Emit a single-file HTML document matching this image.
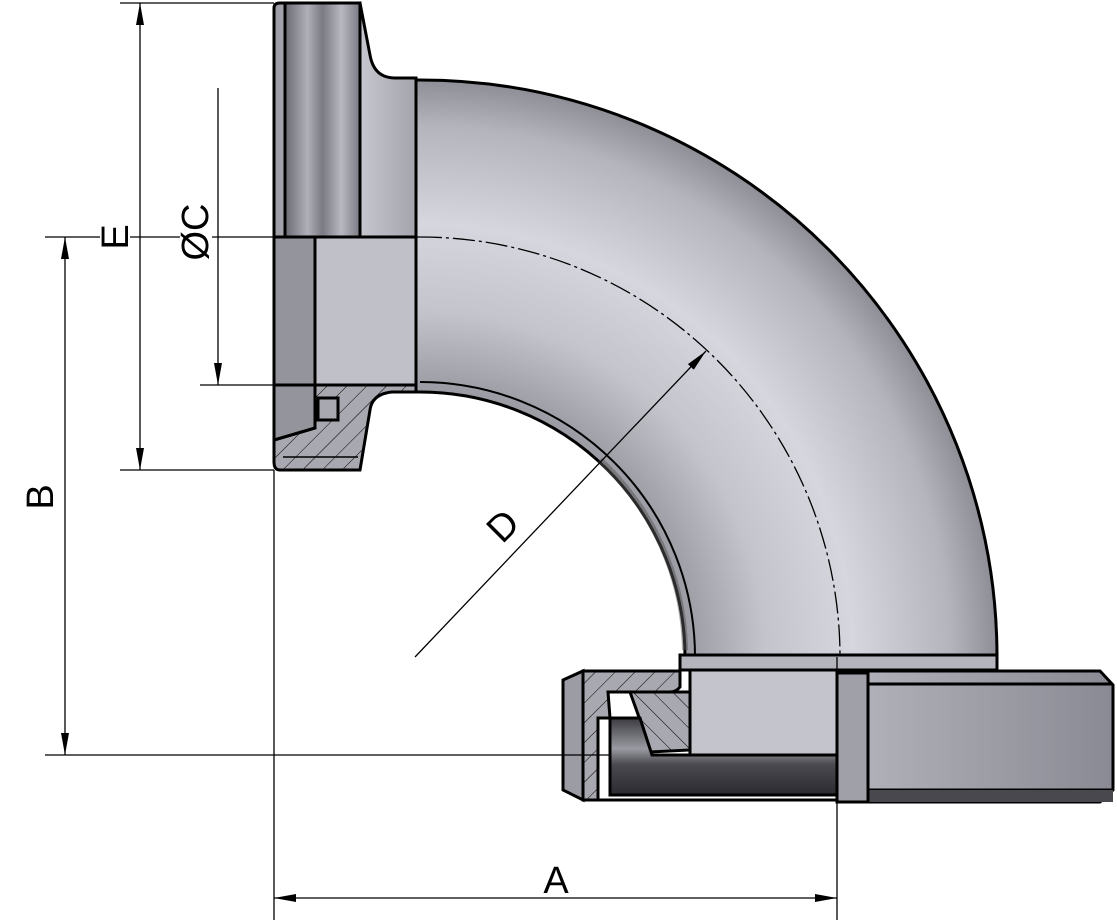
<!DOCTYPE html>
<html><head><meta charset="utf-8"><style>
html,body{margin:0;padding:0;background:#fff;}
svg{display:block;}
text{font-family:"Liberation Sans",sans-serif;font-size:38px;fill:#000;}
</style></head><body>
<svg width="1117" height="922" viewBox="0 0 1117 922" xmlns="http://www.w3.org/2000/svg">
<defs>
<radialGradient id="pipe" cx="420" cy="657" r="577" gradientUnits="userSpaceOnUse">
<stop offset="0.46" stop-color="#9a9aa2"/>
<stop offset="0.6" stop-color="#c4c4cc"/>
<stop offset="0.75" stop-color="#d6d6de"/>
<stop offset="0.92" stop-color="#b4b4bc"/>
<stop offset="1" stop-color="#8e8e96"/>
</radialGradient>
<linearGradient id="vert" x1="0" y1="0" x2="1" y2="0">
<stop offset="0" stop-color="#9c9ca4"/><stop offset="0.5" stop-color="#d0d0d8"/><stop offset="1" stop-color="#a4a4ac"/>
</linearGradient>
<linearGradient id="dark" x1="0" y1="0" x2="1" y2="0">
<stop offset="0" stop-color="#6a6a72"/><stop offset="0.3" stop-color="#b0b0b8"/><stop offset="0.5" stop-color="#7a7a82"/><stop offset="0.75" stop-color="#b8b8c0"/><stop offset="1" stop-color="#7a7a84"/>
</linearGradient>
<linearGradient id="tube" x1="0" y1="0" x2="0" y2="1">
<stop offset="0" stop-color="#3a3a40"/><stop offset="0.4" stop-color="#9a9aa2"/><stop offset="0.6" stop-color="#4a4a50"/><stop offset="1" stop-color="#2a2a30"/>
</linearGradient>
<linearGradient id="nut" x1="0" y1="0" x2="1" y2="0">
<stop offset="0" stop-color="#b0b0b8"/><stop offset="1" stop-color="#8a8a94"/>
</linearGradient>
<pattern id="hatch" width="14" height="14" patternUnits="userSpaceOnUse" patternTransform="rotate(45)">
<rect width="14" height="14" fill="#a8a8b0"/><line x1="0" y1="0" x2="0" y2="14" stroke="#000" stroke-width="1"/>
</pattern>
<pattern id="hatch2" width="14" height="14" patternUnits="userSpaceOnUse" patternTransform="rotate(-45)">
<rect width="14" height="14" fill="#a8a8b0"/><line x1="0" y1="0" x2="0" y2="14" stroke="#000" stroke-width="1"/>
</pattern>
<marker id="ar" markerWidth="22" markerHeight="10" refX="22" refY="5" orient="auto-start-reverse" markerUnits="userSpaceOnUse">
<path d="M0,1 L22,5 L0,9 Z" fill="#000"/></marker>
</defs>

<path d="M416,80 L420,80 A577,577 0 0 1 997,657 L685,657 A265,265 0 0 0 420,392 L416,392 Z" fill="url(#pipe)" stroke="#000" stroke-width="3"/>
<path d="M420,382 A275,275 0 0 1 695,657" fill="none" stroke="#000" stroke-width="2"/>
<path d="M600,460 A265,265 0 0 1 685,650" fill="none" stroke="#555" stroke-width="6" opacity="0.5"/>

<path d="M274,8 Q274,3 280,3 L360,3 L370,55 Q374,78 395,78 L416,78 L416,237 L274,237 Z" fill="url(#vert)" stroke="#000" stroke-width="3"/>
<rect x="285" y="3" width="75" height="234" fill="url(#dark)" stroke="#000" stroke-width="3"/>
<rect x="274" y="237" width="41" height="148" fill="#94949c" stroke="#000" stroke-width="3"/>
<rect x="315" y="237" width="101" height="148" fill="#c0c0c8" stroke="#000" stroke-width="3"/>
<path d="M315,385 L416,385 L416,392 L392,392 Q372,394 370,410 L360,470 L280,470 Q274,470 274,462 L274,440 L315,428 Z" fill="url(#hatch)" stroke="#000" stroke-width="3"/>
<path d="M274,385 L315,385 L315,428 L274,440 Z" fill="#94949c" stroke="#000" stroke-width="3"/>
<rect x="318" y="398" width="20" height="22" fill="#a8a8b0" stroke="#000" stroke-width="3"/>
<line x1="283" y1="457" x2="358" y2="457" stroke="#000" stroke-width="1.5"/>

<rect x="680" y="655" width="317" height="15" fill="#b4b4bc" stroke="#000" stroke-width="3"/>
<rect x="690" y="670" width="147" height="85" fill="#c4c4cc" stroke="#000" stroke-width="3"/>
<path d="M868,671 L1100,671 L1113,685 L1113,790 L1100,802 L868,802 Z" fill="url(#nut)" stroke="#000" stroke-width="3"/>
<path d="M868,684 L1113,684 M868,790 L1113,790" stroke="#000" stroke-width="3"/>
<rect x="868" y="790" width="245" height="12" fill="#48484e"/>
<rect x="837" y="673" width="31" height="129" fill="#a0a0a8" stroke="#000" stroke-width="3"/>
<path d="M583,671 L680,671 L680,687 Q676,692 670,692 L608,692 L610,718 L598,718 L598,800 L583,800 Z" fill="url(#hatch)" stroke="#000" stroke-width="3"/>
<path d="M563,680 L583,671 L583,800 L563,790 Z" fill="#9c9ca4" stroke="#000" stroke-width="3"/>
<path d="M630,692 L690,692 L690,750 L650,752 L640,720 Z" fill="url(#hatch2)" stroke="#000" stroke-width="3"/>
<path d="M610,718 L640,718 L652,755 L837,755 L837,795 L610,795 Z" fill="url(#tube)" stroke="#000" stroke-width="3"/>
<line x1="598" y1="800" x2="837" y2="800" stroke="#000" stroke-width="3"/>

<path d="M420,237 A420,420 0 0 1 840,657" fill="none" stroke="#000" stroke-width="1.3" stroke-dasharray="22,4,3,4"/>
<line x1="837" y1="657" x2="837" y2="800" stroke="#000" stroke-width="1.3" stroke-dasharray="22,4,3,4"/>
<line x1="274" y1="237" x2="420" y2="237" stroke="#000" stroke-width="1.3" stroke-dasharray="22,4,3,4"/>

<g stroke="#000" stroke-width="1.3" fill="none">
<line x1="120" y1="3" x2="274" y2="3"/>
<line x1="120" y1="470" x2="274" y2="470"/>
<line x1="140" y1="3" x2="140" y2="470" marker-start="url(#ar)" marker-end="url(#ar)"/>
<line x1="45" y1="237" x2="100" y2="237"/>
<line x1="130" y1="237" x2="180" y2="237"/>
<line x1="212" y1="237" x2="274" y2="237"/>
<line x1="218" y1="88" x2="218" y2="385" marker-end="url(#ar)"/>
<line x1="200" y1="385" x2="315" y2="385"/>
<line x1="65" y1="237" x2="65" y2="755" marker-start="url(#ar)" marker-end="url(#ar)"/>
<line x1="45" y1="755" x2="610" y2="755"/>
<line x1="274" y1="470" x2="274" y2="920"/>
<line x1="837" y1="800" x2="837" y2="920"/>
<line x1="274" y1="898" x2="837" y2="898" marker-start="url(#ar)" marker-end="url(#ar)"/>
<line x1="415" y1="657" x2="706" y2="351" marker-end="url(#ar)"/>
</g>
<text transform="translate(128,237) rotate(-90)" text-anchor="middle">E</text>
<text transform="translate(208,232) rotate(-90)" text-anchor="middle">ØC</text>
<text transform="translate(53,497) rotate(-90)" text-anchor="middle">B</text>
<text x="556" y="893" text-anchor="middle">A</text>
<text transform="translate(512,535) rotate(-45)" text-anchor="middle">D</text>
</svg>
</body></html>
